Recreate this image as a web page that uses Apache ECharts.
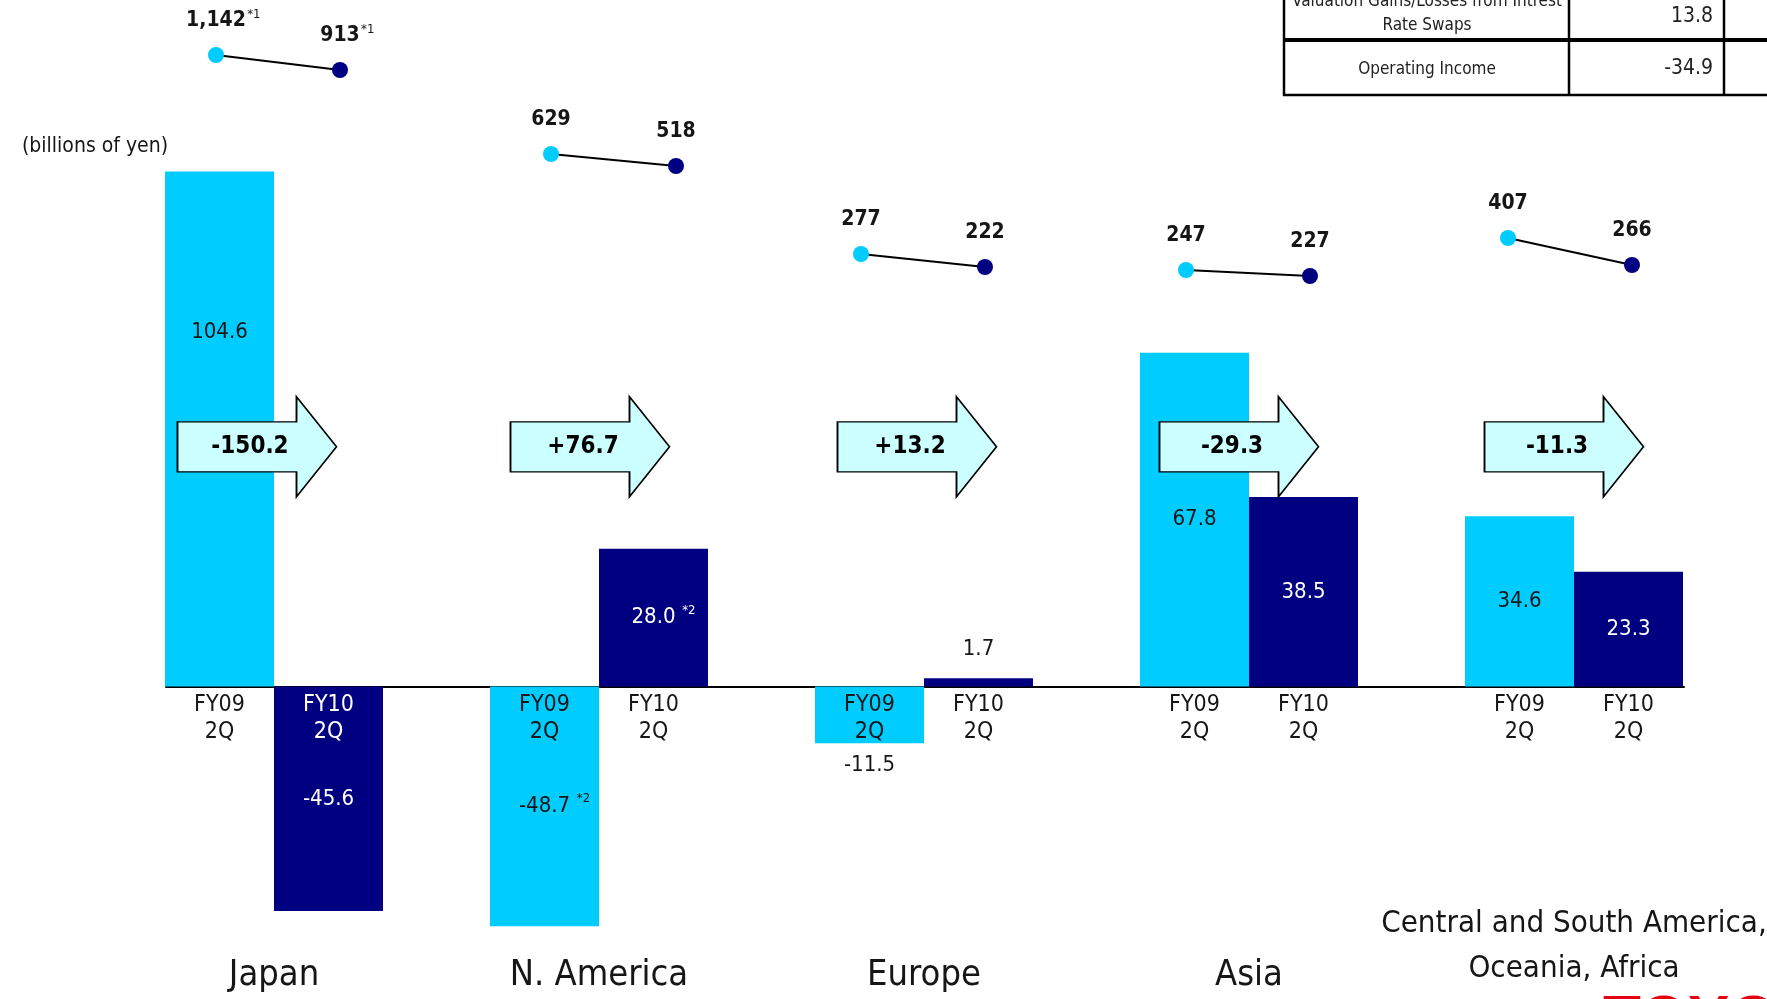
<!DOCTYPE html>
<html>
<head>
<meta charset="utf-8">
<script src="https://cdn.jsdelivr.net/npm/echarts@6/dist/echarts.min.js"></script>
<style>
  html, body { margin: 0; padding: 0; background: #ffffff; }
  #chart { width: 1767px; height: 999px; }
</style>
</head>
<body>
<div id="chart"></div>
<script>
// Regional operating income, FY09 2Q vs FY10 2Q (billions of yen),
// with vehicle sales (thousands of units) shown above each region.
const regions = ['Japan', 'N. America', 'Europe', 'Asia', 'Central and South America,\nOceania, Africa'];
const periods = ['FY09\n2Q', 'FY10\n2Q'];
const incomeFY09 = [104.6, -48.7, -11.5, 67.8, 34.6];
const incomeFY10 = [-45.6, 28.0, 1.7, 38.5, 23.3];
const incomeNoteFY09 = ['', '*2', '', '', ''];
const incomeNoteFY10 = ['', '*2', '', '', ''];
const salesFY09 = [1142, 629, 277, 247, 407];
const salesFY10 = [913, 518, 222, 227, 266];
const salesNote = ['*1', '', '', '', ''];
const tableLabels = ['Valuation Gains/Losses from Intrest\nRate Swaps', 'Operating Income'];
const tableValues = ['13.8', '-34.9'];

const FONT = '"Liberation Sans Narrow", "Arial Narrow", "DejaVu Sans Condensed", sans-serif';
const CYAN = '#00CCFF';
const NAVY = '#000080';
const INK = '#161616';

// layout of the income panel
const GRID_TOP = 145, GRID_HEIGHT = 837, Y_MIN = -60, Y_MAX = 110;
const ZERO_H = GRID_HEIGHT * Y_MAX / (Y_MAX - Y_MIN);   // distance from grid top to the zero line
const PANEL = { left: 111.5, width: 1625 };
const BAR_W = 109;
const ARROW_LEVEL = 48.7;                 // height (in axis units) at which the change arrows sit
const ARROW_SHIFT = [-17, -9, -7, -10, -10]; // horizontal nudge of each arrow, px

// boxes of the small sales sparklines: [left, top, right, bottom] in px
const salesBoxes = [
  [216, 55, 340, 70],
  [551, 154, 676, 166],
  [861, 254, 985, 267],
  [1186, 270, 1310, 276],
  [1508, 238, 1632, 265]
];

const deltas = incomeFY09.map((v, i) => Math.round((incomeFY10[i] - v) * 10) / 10);
const fmtDelta = d => (d > 0 ? '+' : '') + d.toFixed(1);

const valueRich = {
  v:   { fontFamily: FONT, fontSize: 22, color: INK, lineHeight: 28 },
  vw:  { fontFamily: FONT, fontSize: 22, color: '#ffffff', lineHeight: 28 },
  s:   { fontFamily: FONT, fontSize: 13, color: INK, width: 20, align: 'right', verticalAlign: 'top', lineHeight: 28 },
  sw:  { fontFamily: FONT, fontSize: 13, color: '#ffffff', width: 20, align: 'right', verticalAlign: 'top', lineHeight: 28 },
  pad: { width: 20 }
};

function barItem(v, i, dark, note) {
  const small = Math.abs(v) < 15;
  const white = dark && !small;
  const key = white ? 'vw' : 'v';
  const sKey = white ? 'sw' : 's';
  const txt = v.toFixed(1);
  const label = {
    show: true,
    formatter: note ? `{pad|}{${key}|${txt}}{${sKey}|${note}}` : `{${key}|${txt}}`,
    rich: valueRich
  };
  if (small) {
    label.position = v >= 0 ? 'top' : 'bottom';
    label.distance = v >= 0 ? 15 : 8;
  } else if (v > 0 && v / 2 > ARROW_LEVEL - 12 && v / 2 < ARROW_LEVEL + 12) {
    // keep the value clear of the change arrow
    label.position = 'insideTop';
    label.offset = [0, 142];
  } else {
    label.position = 'inside';
  }
  return { value: v, label };
}

const fyRich = {
  a:  { fontFamily: FONT, fontSize: 23, color: INK, width: BAR_W, align: 'center', lineHeight: 27 },
  bw: { fontFamily: FONT, fontSize: 23, color: '#ffffff', width: BAR_W, align: 'center', lineHeight: 27 },
  b:  { fontFamily: FONT, fontSize: 23, color: INK, width: BAR_W, align: 'center', lineHeight: 27 }
};

const regionRich = {
  r:   { fontFamily: FONT, fontSize: 36, color: INK, lineHeight: 45 },
  c:   { fontFamily: FONT, fontSize: 31, color: INK, lineHeight: 45 },
  gap: { fontSize: 1, lineHeight: 7 }
};

const grids = [
  // bars
  { left: PANEL.left, width: PANEL.width, top: GRID_TOP, height: GRID_HEIGHT, outerBoundsMode: 'none' },
  // zero line, spanning the outer bar edges
  { left: 166, right: 83, top: GRID_TOP, height: ZERO_H, outerBoundsMode: 'none' },
  // period labels hanging from the zero line
  { left: PANEL.left, width: PANEL.width, top: GRID_TOP, height: ZERO_H, outerBoundsMode: 'none' }
];
const xAxes = [
  {
    type: 'category', gridIndex: 0, position: 'bottom', data: regions,
    axisLine: { show: false, onZero: false }, axisTick: { show: false }, splitLine: { show: false },
    axisLabel: {
      interval: 0, margin: 16, verticalAlign: 'bottom', align: 'center',
      formatter: val => {
        const lines = val.split('\n');
        if (lines.length === 1) return `{r|${val}}`;
        // two-line name sits a little higher than the single-line ones
        return lines.map(line => `{c|${line}}`).join('\n') + '\n{gap| }';
      },
      rich: regionRich
    }
  },
  {
    type: 'category', gridIndex: 1, data: [''], position: 'bottom',
    axisLine: { show: true, onZero: false, lineStyle: { color: '#000000', width: 2 } },
    axisTick: { show: false }, axisLabel: { show: false }, splitLine: { show: false }
  },
  {
    type: 'category', gridIndex: 2, data: regions, position: 'bottom', z: 10,
    axisLine: { show: false, onZero: false }, axisTick: { show: false }, splitLine: { show: false },
    axisLabel: {
      interval: 0, margin: 5,
      formatter: (val, idx) => {
        const p0 = periods[0].split('\n'), p1 = periods[1].split('\n');
        const k1 = incomeFY10[idx] < -15 ? 'bw' : 'b';
        return `{a|${p0[0]}}{${k1}|${p1[0]}}\n{a|${p0[1]}}{${k1}|${p1[1]}}`;
      },
      rich: fyRich
    }
  }
];
const yAxes = [
  { type: 'value', gridIndex: 0, min: Y_MIN, max: Y_MAX, show: false },
  { type: 'value', gridIndex: 1, min: 0, max: Y_MAX, show: false },
  { type: 'value', gridIndex: 2, min: 0, max: Y_MAX, show: false }
];

const series = [
  {
    name: 'FY09 2Q', type: 'bar', xAxisIndex: 0, yAxisIndex: 0,
    barWidth: BAR_W, barGap: '0%',
    itemStyle: { color: CYAN },
    data: incomeFY09.map((v, i) => barItem(v, i, false, incomeNoteFY09[i]))
  },
  {
    name: 'FY10 2Q', type: 'bar', xAxisIndex: 0, yAxisIndex: 0,
    barWidth: BAR_W, barGap: '0%',
    itemStyle: { color: NAVY },
    data: incomeFY10.map((v, i) => barItem(v, i, true, incomeNoteFY10[i]))
  },
  {
    name: 'change', type: 'scatter', xAxisIndex: 0, yAxisIndex: 0, z: 5,
    symbol: 'path://M0,25 L119,25 L119,0 L159,50 L119,100 L119,75 L0,75 Z',
    symbolSize: [159, 100],
    itemStyle: { color: '#CCFFFF', borderColor: '#000000', borderWidth: 1.5, opacity: 1 },
    label: {
      show: true, position: 'inside', offset: [-7, 0],
      fontFamily: FONT, fontSize: 24, fontWeight: 'bold', color: '#000000',
      formatter: p => fmtDelta(deltas[p.dataIndex])
    },
    silent: true,
    data: regions.map((r, i) => ({ value: [i, ARROW_LEVEL], symbolOffset: [ARROW_SHIFT[i], 0] }))
  }
];

// one small grid per region for the sales sparkline
regions.forEach((r, i) => {
  const [l, t, rr, b] = salesBoxes[i];
  grids.push({ left: l, top: t, width: rr - l, height: b - t, outerBoundsMode: 'none' });
  xAxes.push({ type: 'category', gridIndex: 3 + i, data: ['FY09 2Q', 'FY10 2Q'], boundaryGap: false, show: false });
  yAxes.push({ type: 'value', gridIndex: 3 + i, min: 'dataMin', max: 'dataMax', show: false });
  const note = salesNote[i];
  series.push({
    name: 'sales ' + r, type: 'line', xAxisIndex: 3 + i, yAxisIndex: 3 + i, clip: false,
    symbol: 'circle', symbolSize: 16,
    lineStyle: { color: '#000000', width: 2 },
    label: {
      show: true, position: 'top', distance: 13,
      formatter: p => {
        const n = p.value.toLocaleString('en-US');
        return note ? `{pad|}{n|${n}}{s|${note}}` : `{n|${n}}`;
      },
      rich: {
        n:   { fontFamily: FONT, fontSize: 21, fontWeight: 'bold', color: INK, lineHeight: 26 },
        s:   { fontFamily: FONT, fontSize: 13, color: INK, width: 16, align: 'left', verticalAlign: 'top', lineHeight: 26 },
        pad: { width: 16 }
      }
    },
    data: [
      { value: salesFY09[i], itemStyle: { color: CYAN } },
      { value: salesFY10[i], itemStyle: { color: NAVY } }
    ]
  });
});

// summary table in the top-right corner, caption and logo
const tableGraphics = [
  { type: 'line', shape: { x1: 1284, y1: 0, x2: 1284, y2: 96 }, style: { stroke: '#000', lineWidth: 2.5 } },
  { type: 'line', shape: { x1: 1569, y1: 0, x2: 1569, y2: 96 }, style: { stroke: '#000', lineWidth: 2.5 } },
  { type: 'line', shape: { x1: 1724, y1: 0, x2: 1724, y2: 96 }, style: { stroke: '#000', lineWidth: 2.5 } },
  { type: 'line', shape: { x1: 1283, y1: 40, x2: 1767, y2: 40 }, style: { stroke: '#000', lineWidth: 4 } },
  { type: 'line', shape: { x1: 1283, y1: 95, x2: 1767, y2: 95 }, style: { stroke: '#000', lineWidth: 2.5 } },
  { type: 'text', x: 1427, y: 14, style: { text: tableLabels[0], font: '17px ' + FONT, fill: '#222', align: 'center', verticalAlign: 'middle', lineHeight: 24 } },
  { type: 'text', x: 1713, y: 17, style: { text: tableValues[0], font: '21px ' + FONT, fill: '#222', align: 'right', verticalAlign: 'middle' } },
  { type: 'text', x: 1427, y: 70, style: { text: tableLabels[1], font: '17px ' + FONT, fill: '#222', align: 'center', verticalAlign: 'middle' } },
  { type: 'text', x: 1713, y: 69, style: { text: tableValues[1], font: '21px ' + FONT, fill: '#222', align: 'right', verticalAlign: 'middle' } },
  { type: 'text', x: 22, y: 147, style: { text: '(billions of yen)', font: '21px ' + FONT, fill: INK, align: 'left', verticalAlign: 'middle' } },
  { type: 'text', x: 1603, y: 990, style: { text: 'TOYOTA', font: 'bold 62px "Liberation Sans", sans-serif', fill: '#E60012', align: 'left', verticalAlign: 'top' } }
];

const chart = echarts.init(document.getElementById('chart'), null, { renderer: 'canvas' });
chart.setOption({
  animation: false,
  backgroundColor: '#ffffff',
  textStyle: { fontFamily: FONT },
  grid: grids,
  xAxis: xAxes,
  yAxis: yAxes,
  series: series,
  graphic: tableGraphics
});
</script>
</body>
</html>
